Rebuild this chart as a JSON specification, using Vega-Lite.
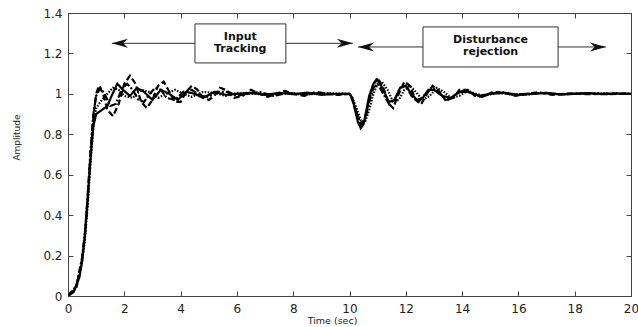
{
  "$schema": "https://vega.github.io/schema/vega-lite/v6.json",
  "width": 563,
  "height": 283,
  "autosize": "none",
  "padding": {"left": 68, "top": 13, "right": 7, "bottom": 31},
  "background": "white",
  "config": {
    "view": {"stroke": "#444", "strokeWidth": 1},
    "font": "DejaVu Sans",
    "axis": {"grid": false, "domainColor": "#444", "tickColor": "#444", "labelColor": "#222", "labelFont": "DejaVu Sans", "labelFontSize": 12, "titleFont": "DejaVu Sans", "titleFontWeight": "normal", "titleColor": "#222"}
  },
  "datasets": {
    "resp": [
      {"s":"A","t":0,"y":0},{"s":"A","t":0.2,"y":0.02},{"s":"A","t":0.4,"y":0.09},{"s":"A","t":0.5,"y":0.17},{"s":"A","t":0.6,"y":0.3},{"s":"A","t":0.7,"y":0.48},{"s":"A","t":0.8,"y":0.68},{"s":"A","t":0.9,"y":0.84},{"s":"A","t":1.0,"y":0.9},{"s":"A","t":1.2,"y":0.92},{"s":"A","t":1.4,"y":0.94},{"s":"A","t":1.55,"y":0.99},{"s":"A","t":1.75,"y":1.05},{"s":"A","t":1.95,"y":1.02},{"s":"A","t":2.2,"y":0.99},{"s":"A","t":2.45,"y":1.03},{"s":"A","t":2.7,"y":1.01},{"s":"A","t":3.0,"y":0.97},{"s":"A","t":3.3,"y":1.02},{"s":"A","t":3.6,"y":1.0},{"s":"A","t":3.9,"y":0.97},{"s":"A","t":4.2,"y":1.01},{"s":"A","t":4.5,"y":1.0},{"s":"A","t":4.8,"y":0.98},{"s":"A","t":5.2,"y":1.01},{"s":"A","t":5.6,"y":0.995},{"s":"A","t":6.0,"y":1.0},{"s":"A","t":6.5,"y":1.005},{"s":"A","t":7.0,"y":0.995},{"s":"A","t":7.5,"y":1.005},{"s":"A","t":8.0,"y":0.998},{"s":"A","t":8.5,"y":1.006},{"s":"A","t":9.0,"y":0.995},{"s":"A","t":9.5,"y":1.0},{"s":"A","t":10.0,"y":1.0},{"s":"A","t":10.1,"y":0.98},{"s":"A","t":10.2,"y":0.92},{"s":"A","t":10.3,"y":0.86},{"s":"A","t":10.4,"y":0.83},{"s":"A","t":10.5,"y":0.85},{"s":"A","t":10.6,"y":0.92},{"s":"A","t":10.7,"y":0.99},{"s":"A","t":10.85,"y":1.05},{"s":"A","t":11.0,"y":1.07},{"s":"A","t":11.2,"y":1.02},{"s":"A","t":11.4,"y":0.96},{"s":"A","t":11.6,"y":0.97},{"s":"A","t":11.8,"y":1.03},{"s":"A","t":12.0,"y":1.04},{"s":"A","t":12.2,"y":1.0},{"s":"A","t":12.4,"y":0.97},{"s":"A","t":12.6,"y":0.98},{"s":"A","t":12.8,"y":1.02},{"s":"A","t":13.0,"y":1.02},{"s":"A","t":13.3,"y":0.99},{"s":"A","t":13.6,"y":0.98},{"s":"A","t":13.9,"y":1.01},{"s":"A","t":14.2,"y":1.01},{"s":"A","t":14.6,"y":0.99},{"s":"A","t":15.0,"y":1.0},{"s":"A","t":15.5,"y":1.005},{"s":"A","t":16.0,"y":0.995},{"s":"A","t":16.5,"y":1.0},{"s":"A","t":17.0,"y":1.005},{"s":"A","t":17.5,"y":0.997},{"s":"A","t":18.0,"y":1.0},{"s":"A","t":18.5,"y":1.004},{"s":"A","t":19.0,"y":0.998},{"s":"A","t":19.5,"y":1.002},{"s":"A","t":20.0,"y":1.0},

      {"s":"B","t":0,"y":0},{"s":"B","t":0.3,"y":0.05},{"s":"B","t":0.5,"y":0.18},{"s":"B","t":0.6,"y":0.3},{"s":"B","t":0.7,"y":0.48},{"s":"B","t":0.8,"y":0.7},{"s":"B","t":0.9,"y":0.88},{"s":"B","t":1.0,"y":1.0},{"s":"B","t":1.1,"y":1.04},{"s":"B","t":1.25,"y":1.0},{"s":"B","t":1.4,"y":0.92},{"s":"B","t":1.6,"y":0.89},{"s":"B","t":1.8,"y":0.95},{"s":"B","t":2.0,"y":1.05},{"s":"B","t":2.2,"y":1.09},{"s":"B","t":2.4,"y":1.05},{"s":"B","t":2.6,"y":0.96},{"s":"B","t":2.8,"y":0.93},{"s":"B","t":3.0,"y":0.97},{"s":"B","t":3.2,"y":1.04},{"s":"B","t":3.4,"y":1.06},{"s":"B","t":3.6,"y":1.01},{"s":"B","t":3.8,"y":0.96},{"s":"B","t":4.0,"y":0.96},{"s":"B","t":4.2,"y":1.01},{"s":"B","t":4.4,"y":1.04},{"s":"B","t":4.6,"y":1.02},{"s":"B","t":4.8,"y":0.98},{"s":"B","t":5.0,"y":0.97},{"s":"B","t":5.2,"y":0.99},{"s":"B","t":5.4,"y":1.03},{"s":"B","t":5.6,"y":1.02},{"s":"B","t":5.9,"y":0.98},{"s":"B","t":6.2,"y":0.99},{"s":"B","t":6.5,"y":1.02},{"s":"B","t":6.8,"y":1.0},{"s":"B","t":7.1,"y":0.985},{"s":"B","t":7.4,"y":1.0},{"s":"B","t":7.7,"y":1.015},{"s":"B","t":8.0,"y":1.0},{"s":"B","t":8.4,"y":0.99},{"s":"B","t":8.8,"y":1.01},{"s":"B","t":9.2,"y":1.0},{"s":"B","t":9.6,"y":0.995},{"s":"B","t":10.0,"y":1.0},{"s":"B","t":10.1,"y":0.97},{"s":"B","t":10.25,"y":0.9},{"s":"B","t":10.4,"y":0.85},{"s":"B","t":10.55,"y":0.88},{"s":"B","t":10.7,"y":0.97},{"s":"B","t":10.85,"y":1.05},{"s":"B","t":11.0,"y":1.08},{"s":"B","t":11.2,"y":1.03},{"s":"B","t":11.4,"y":0.95},{"s":"B","t":11.55,"y":0.93},{"s":"B","t":11.75,"y":1.0},{"s":"B","t":11.95,"y":1.06},{"s":"B","t":12.15,"y":1.04},{"s":"B","t":12.35,"y":0.97},{"s":"B","t":12.55,"y":0.95},{"s":"B","t":12.75,"y":1.0},{"s":"B","t":12.95,"y":1.04},{"s":"B","t":13.2,"y":1.01},{"s":"B","t":13.4,"y":0.97},{"s":"B","t":13.7,"y":0.98},{"s":"B","t":13.9,"y":1.02},{"s":"B","t":14.2,"y":1.02},{"s":"B","t":14.5,"y":0.985},{"s":"B","t":14.8,"y":0.99},{"s":"B","t":15.1,"y":1.01},{"s":"B","t":15.5,"y":1.005},{"s":"B","t":15.9,"y":0.99},{"s":"B","t":16.3,"y":1.0},{"s":"B","t":16.7,"y":1.008},{"s":"B","t":17.2,"y":0.995},{"s":"B","t":17.8,"y":1.003},{"s":"B","t":18.5,"y":0.998},{"s":"B","t":19.2,"y":1.002},{"s":"B","t":20.0,"y":1.0},

      {"s":"C","t":0,"y":0},{"s":"C","t":0.3,"y":0.05},{"s":"C","t":0.5,"y":0.19},{"s":"C","t":0.6,"y":0.31},{"s":"C","t":0.7,"y":0.5},{"s":"C","t":0.8,"y":0.72},{"s":"C","t":0.9,"y":0.9},{"s":"C","t":1.0,"y":0.99},{"s":"C","t":1.15,"y":1.03},{"s":"C","t":1.3,"y":1.0},{"s":"C","t":1.5,"y":0.94},{"s":"C","t":1.7,"y":0.95},{"s":"C","t":1.9,"y":1.02},{"s":"C","t":2.1,"y":1.05},{"s":"C","t":2.3,"y":1.02},{"s":"C","t":2.5,"y":0.97},{"s":"C","t":2.7,"y":0.96},{"s":"C","t":2.9,"y":1.0},{"s":"C","t":3.1,"y":1.03},{"s":"C","t":3.3,"y":1.02},{"s":"C","t":3.5,"y":0.98},{"s":"C","t":3.8,"y":0.97},{"s":"C","t":4.1,"y":1.01},{"s":"C","t":4.4,"y":1.02},{"s":"C","t":4.7,"y":0.99},{"s":"C","t":5.0,"y":0.985},{"s":"C","t":5.3,"y":1.01},{"s":"C","t":5.7,"y":1.01},{"s":"C","t":6.0,"y":0.99},{"s":"C","t":6.4,"y":1.0},{"s":"C","t":6.8,"y":1.01},{"s":"C","t":7.3,"y":0.99},{"s":"C","t":7.8,"y":1.005},{"s":"C","t":8.4,"y":0.995},{"s":"C","t":9.0,"y":1.005},{"s":"C","t":9.5,"y":0.998},{"s":"C","t":10.0,"y":1.0},{"s":"C","t":10.1,"y":0.975},{"s":"C","t":10.25,"y":0.91},{"s":"C","t":10.4,"y":0.85},{"s":"C","t":10.55,"y":0.87},{"s":"C","t":10.7,"y":0.96},{"s":"C","t":10.85,"y":1.03},{"s":"C","t":11.0,"y":1.05},{"s":"C","t":11.2,"y":1.0},{"s":"C","t":11.4,"y":0.95},{"s":"C","t":11.6,"y":0.97},{"s":"C","t":11.8,"y":1.03},{"s":"C","t":12.0,"y":1.04},{"s":"C","t":12.2,"y":0.99},{"s":"C","t":12.45,"y":0.96},{"s":"C","t":12.7,"y":1.0},{"s":"C","t":12.95,"y":1.03},{"s":"C","t":13.2,"y":1.0},{"s":"C","t":13.5,"y":0.97},{"s":"C","t":13.8,"y":1.0},{"s":"C","t":14.1,"y":1.02},{"s":"C","t":14.4,"y":1.0},{"s":"C","t":14.7,"y":0.985},{"s":"C","t":15.0,"y":1.0},{"s":"C","t":15.4,"y":1.01},{"s":"C","t":15.8,"y":0.995},{"s":"C","t":16.3,"y":1.0},{"s":"C","t":16.8,"y":1.005},{"s":"C","t":17.5,"y":0.997},{"s":"C","t":18.3,"y":1.003},{"s":"C","t":19.2,"y":0.999},{"s":"C","t":20.0,"y":1.0},

      {"s":"D","t":0,"y":0},{"s":"D","t":0.3,"y":0.04},{"s":"D","t":0.5,"y":0.17},{"s":"D","t":0.6,"y":0.28},{"s":"D","t":0.7,"y":0.45},{"s":"D","t":0.8,"y":0.66},{"s":"D","t":0.9,"y":0.84},{"s":"D","t":1.0,"y":0.93},{"s":"D","t":1.2,"y":0.97},{"s":"D","t":1.4,"y":1.0},{"s":"D","t":1.6,"y":1.03},{"s":"D","t":1.8,"y":1.02},{"s":"D","t":2.0,"y":0.99},{"s":"D","t":2.3,"y":0.98},{"s":"D","t":2.6,"y":1.02},{"s":"D","t":2.9,"y":1.01},{"s":"D","t":3.2,"y":0.98},{"s":"D","t":3.5,"y":1.0},{"s":"D","t":3.8,"y":1.02},{"s":"D","t":4.1,"y":1.0},{"s":"D","t":4.4,"y":0.985},{"s":"D","t":4.8,"y":1.01},{"s":"D","t":5.2,"y":1.005},{"s":"D","t":5.6,"y":0.99},{"s":"D","t":6.0,"y":1.005},{"s":"D","t":6.6,"y":1.0},{"s":"D","t":7.2,"y":0.995},{"s":"D","t":7.8,"y":1.005},{"s":"D","t":8.5,"y":0.998},{"s":"D","t":9.2,"y":1.003},{"s":"D","t":10.0,"y":1.0},{"s":"D","t":10.1,"y":0.98},{"s":"D","t":10.25,"y":0.93},{"s":"D","t":10.4,"y":0.87},{"s":"D","t":10.55,"y":0.86},{"s":"D","t":10.7,"y":0.92},{"s":"D","t":10.85,"y":1.0},{"s":"D","t":11.0,"y":1.05},{"s":"D","t":11.15,"y":1.06},{"s":"D","t":11.35,"y":1.02},{"s":"D","t":11.55,"y":0.96},{"s":"D","t":11.75,"y":0.97},{"s":"D","t":11.95,"y":1.02},{"s":"D","t":12.15,"y":1.04},{"s":"D","t":12.35,"y":1.01},{"s":"D","t":12.6,"y":0.97},{"s":"D","t":12.85,"y":0.99},{"s":"D","t":13.1,"y":1.03},{"s":"D","t":13.35,"y":1.01},{"s":"D","t":13.6,"y":0.98},{"s":"D","t":13.9,"y":0.99},{"s":"D","t":14.2,"y":1.015},{"s":"D","t":14.5,"y":1.0},{"s":"D","t":14.8,"y":0.99},{"s":"D","t":15.2,"y":1.005},{"s":"D","t":15.7,"y":1.0},{"s":"D","t":16.2,"y":0.995},{"s":"D","t":16.8,"y":1.004},{"s":"D","t":17.5,"y":0.998},{"s":"D","t":18.5,"y":1.002},{"s":"D","t":20.0,"y":1.0}
    ],
    "arrows": [
      {"x1": 1.56, "x2": 10.12, "y": 1.25},
      {"x1": 10.3, "x2": 19.11, "y": 1.232}
    ],
    "heads": [
      {"t": 1.56, "y": 1.25, "dir": "left"},
      {"t": 10.12, "y": 1.25, "dir": "right"},
      {"t": 10.3, "y": 1.232, "dir": "left"},
      {"t": 19.11, "y": 1.232, "dir": "right"}
    ],
    "boxes": [
      {"x1": 4.51, "x2": 7.74, "y1": 1.153, "y2": 1.346},
      {"x1": 12.61, "x2": 17.41, "y1": 1.133, "y2": 1.331}
    ],
    "labels": [
      {"t": 6.12, "y": 1.268, "txt": "Input"},
      {"t": 6.12, "y": 1.205, "txt": "Tracking"},
      {"t": 15.01, "y": 1.253, "txt": "Disturbance"},
      {"t": 15.01, "y": 1.19, "txt": "rejection"}
    ]
  },
  "resolve": {"axis": {"x": "independent", "y": "independent"}},
  "layer": [
    {
      "data": {"name": "resp"},
      "mark": {"type": "line", "color": "black", "clip": true, "interpolate": "linear"},
      "encoding": {
        "x": {"field": "t", "type": "quantitative", "scale": {"domain": [0, 20], "nice": false, "zero": false},
              "axis": {"orient": "bottom", "values": [0,2,4,6,8,10,12,14,16,18,20], "tickSize": -5, "labelPadding": 12, "labelFlush": false, "title": "Time (sec)", "titleFontSize": 9.5, "titleX": 264, "titleY": 27, "titleAnchor": null, "titleAlign": "center", "titleBaseline": "alphabetic"}},
        "y": {"field": "y", "type": "quantitative", "scale": {"domain": [0, 1.4], "nice": false},
              "axis": {"orient": "left", "values": [0,0.2,0.4,0.6,0.8,1,1.2,1.4], "format": "~g", "tickSize": -5, "labelPadding": 11, "labelFlush": false, "title": "Amplitude", "titleFontSize": 9, "titleX": -52, "titleY": 124, "titleAnchor": null, "titleAlign": "center", "titleBaseline": "middle", "titleAngle": -90}},
        "strokeDash": {"field": "s", "type": "nominal", "scale": {"domain": ["A","B","C","D"], "range": [[1,0],[6,3],[7,2,2,2],[1.5,1.5]]}, "legend": null},
        "strokeWidth": {"field": "s", "type": "nominal", "scale": {"domain": ["A","B","C","D"], "range": [2.2, 2.2, 1.6, 1.6]}, "legend": null}
      }
    },
    {
      "data": {"name": "arrows"},
      "mark": {"type": "rule", "color": "#333", "strokeWidth": 1},
      "encoding": {
        "x": {"field": "x1", "type": "quantitative", "axis": null},
        "x2": {"field": "x2"},
        "y": {"field": "y", "type": "quantitative", "axis": null}
      }
    },
    {
      "data": {"name": "boxes"},
      "mark": {"type": "rect", "fill": "white", "stroke": "#333", "strokeWidth": 1},
      "encoding": {
        "x": {"field": "x1", "type": "quantitative", "axis": {"orient": "top", "values": [0,2,4,6,8,10,12,14,16,18,20], "labels": false, "title": null, "tickSize": -5}},
        "x2": {"field": "x2"},
        "y": {"field": "y1", "type": "quantitative", "axis": {"orient": "right", "values": [0,0.2,0.4,0.6,0.8,1,1.2,1.4], "labels": false, "title": null, "tickSize": -5}},
        "y2": {"field": "y2"}
      }
    },
    {
      "data": {"name": "labels"},
      "mark": {"type": "text", "font": "DejaVu Sans", "fontWeight": "bold", "fontSize": 11, "color": "#111", "align": "center", "baseline": "alphabetic"},
      "encoding": {
        "x": {"field": "t", "type": "quantitative", "axis": null},
        "y": {"field": "y", "type": "quantitative", "axis": null},
        "text": {"field": "txt"}
      }
    },
    {
      "data": {"name": "heads"},
      "mark": {"type": "point", "filled": true, "color": "#111", "opacity": 1, "size": 1024},
      "encoding": {
        "x": {"field": "t", "type": "quantitative", "axis": null},
        "y": {"field": "y", "type": "quantitative", "axis": null},
        "shape": {"field": "dir", "type": "nominal", "scale": {"domain": ["left", "right"], "range": ["M0,0L1,-0.28L0.7,0L1,0.28Z", "M0,0L-1,-0.28L-0.7,0L-1,0.28Z"]}, "legend": null}
      }
    }
  ]
}
